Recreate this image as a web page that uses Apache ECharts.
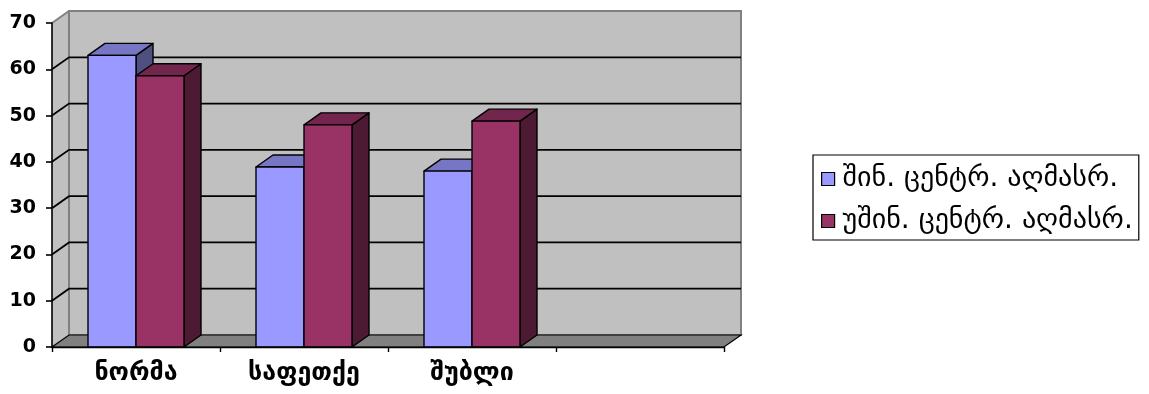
<!DOCTYPE html>
<html>
<head>
<meta charset="utf-8">
<script src="https://cdn.jsdelivr.net/npm/echarts@6/dist/echarts.min.js"></script>
<style>
  html, body { margin: 0; padding: 0; background: #ffffff; }
  #chart { width: 1149px; height: 394px; }
</style>
</head>
<body>
<div id="chart"></div>
<script>
// Categories (the fourth slot is intentionally empty)
const categories = ['ნორმა', 'საფეთქე', 'შუბლი', ''];
// Series names
const seriesNames = ['შინ. ცენტრ. აღმასრ.', 'უშინ. ცენტრ. აღმასრ.'];
// Values per series
const valuesA = [63, 38.9, 38];
const valuesB = [58.6, 48, 48.8];
// Value axis ticks
const yTicks = [0, 10, 20, 30, 40, 50, 60, 70];

// Pseudo-3D depth offset in pixels
const DX = 17;
const DY = 12;
const GAP_RATIO = 1.5; // gap between clusters relative to one bar width

const palette = [
  { front: '#9999FF', top: '#7676C4', side: '#4F4F82' },
  { front: '#993366', top: '#73264D', side: '#4D1A33' }
];

const chart = echarts.init(document.getElementById('chart'), null, { renderer: 'canvas' });

function wallRender(params, api) {
  const cs = params.coordSys;
  const x0 = cs.x, x1 = cs.x + cs.width;
  const yb = cs.y + cs.height, yt = cs.y;
  const children = [];
  // left side wall
  children.push({
    type: 'polygon',
    shape: { points: [[x0, yb], [x0, yt], [x0 + DX, yt - DY], [x0 + DX, yb - DY]] },
    style: { fill: '#C0C0C0', stroke: null }
  });
  // back wall
  children.push({
    type: 'rect',
    shape: { x: x0 + DX, y: yt - DY, width: x1 - x0, height: yb - yt },
    style: { fill: '#C0C0C0', stroke: '#808080', lineWidth: 2 }
  });
  // top edge of side wall
  children.push({
    type: 'line',
    shape: { x1: x0, y1: yt, x2: x0 + DX, y2: yt - DY },
    style: { stroke: '#808080', lineWidth: 2 }
  });
  // floor
  children.push({
    type: 'polygon',
    shape: { points: [[x0, yb], [x1, yb], [x1 + DX, yb - DY], [x0 + DX, yb - DY]] },
    style: { fill: '#808080', stroke: '#000000', lineWidth: 1.2 }
  });
  // gridlines on the side and back walls
  yTicks.forEach(function (v) {
    if (v === 0 || v === yTicks[yTicks.length - 1]) return;
    const y = api.coord([0, v])[1];
    children.push({
      type: 'polyline',
      shape: { points: [[x0, y], [x0 + DX, y - DY], [x1 + DX, y - DY]] },
      style: { stroke: '#000000', lineWidth: 1.8, fill: null }
    });
  });
  return { type: 'group', children: children, silent: true };
}

function makeBarRender(seriesIdx) {
  return function (params, api) {
    const cat = api.value(0);
    const val = api.value(1);
    const top = api.coord([cat, val]);
    const base = api.coord([cat, 0]);
    const band = api.size([1, 0])[0];
    const w = band / (2 + GAP_RATIO);
    const left = top[0] - w + seriesIdx * w;
    const right = left + w;
    const yv = top[1], y0 = base[1];
    const c = palette[seriesIdx];
    const stroke = { stroke: '#000000', lineWidth: 1.4, lineJoin: 'round' };
    return {
      type: 'group',
      children: [
        { type: 'polygon',
          shape: { points: [[right, yv], [right + DX, yv - DY], [right + DX, y0 - DY], [right, y0]] },
          style: Object.assign({ fill: c.side }, stroke) },
        { type: 'polygon',
          shape: { points: [[left, yv], [left + DX, yv - DY], [right + DX, yv - DY], [right, yv]] },
          style: Object.assign({ fill: c.top }, stroke) },
        { type: 'rect',
          shape: { x: left, y: yv, width: w, height: y0 - yv },
          style: Object.assign({ fill: c.front }, stroke) }
      ]
    };
  };
}

const labelFont = { fontFamily: 'DejaVu Sans', fontWeight: 'bold', color: '#000000' };

chart.setOption({
  animation: false,
  backgroundColor: '#ffffff',
  grid: { left: 52, right: 425, top: 23, bottom: 47, containLabel: false },
  xAxis: {
    type: 'category',
    data: categories,
    boundaryGap: true,
    axisLine: { show: true, lineStyle: { color: '#000000', width: 1.4 } },
    axisTick: { show: true, length: 5, inside: false, lineStyle: { color: '#000000', width: 1.4 } },
    axisLabel: Object.assign({ fontSize: 25, margin: 14, interval: 0 }, labelFont),
    splitLine: { show: false },
    z: 5
  },
  yAxis: {
    type: 'value',
    min: 0,
    max: 70,
    interval: 10,
    axisLine: { show: true, lineStyle: { color: '#000000', width: 1.6 } },
    axisTick: { show: true, length: 6, lineStyle: { color: '#000000', width: 1.6 } },
    axisLabel: Object.assign({ fontSize: 19, margin: 16 }, labelFont),
    splitLine: { show: false },
    z: 5
  },
  legend: {
    orient: 'vertical',
    left: 813,
    top: 155,
    width: 330,
    padding: [10, 6, 5, 8],
    itemGap: 14,
    itemWidth: 13,
    itemHeight: 13,
    borderColor: '#000000',
    borderWidth: 1.2,
    backgroundColor: '#ffffff',
    textStyle: { fontFamily: 'DejaVu Sans', fontSize: 28, color: '#000000', padding: [0, 0, 0, 3] },
    data: [
      { name: seriesNames[0], icon: 'rect', itemStyle: { color: palette[0].front, borderColor: '#000', borderWidth: 1.2 } },
      { name: seriesNames[1], icon: 'rect', itemStyle: { color: palette[1].front, borderColor: '#000', borderWidth: 1.2 } }
    ]
  },
  series: [
    {
      type: 'custom',
      name: '__walls',
      renderItem: wallRender,
      data: [[0, 0]],
      z: 1,
      silent: true,
      clip: false
    },
    {
      type: 'custom',
      name: seriesNames[0],
      renderItem: makeBarRender(0),
      itemStyle: { color: palette[0].front },
      data: valuesA.map(function (v, i) { return [i, v]; }),
      encode: { x: 0, y: 1 },
      z: 2,
      clip: false
    },
    {
      type: 'custom',
      name: seriesNames[1],
      renderItem: makeBarRender(1),
      itemStyle: { color: palette[1].front },
      data: valuesB.map(function (v, i) { return [i, v]; }),
      encode: { x: 0, y: 1 },
      z: 3,
      clip: false
    }
  ]
});
</script>
</body>
</html>
